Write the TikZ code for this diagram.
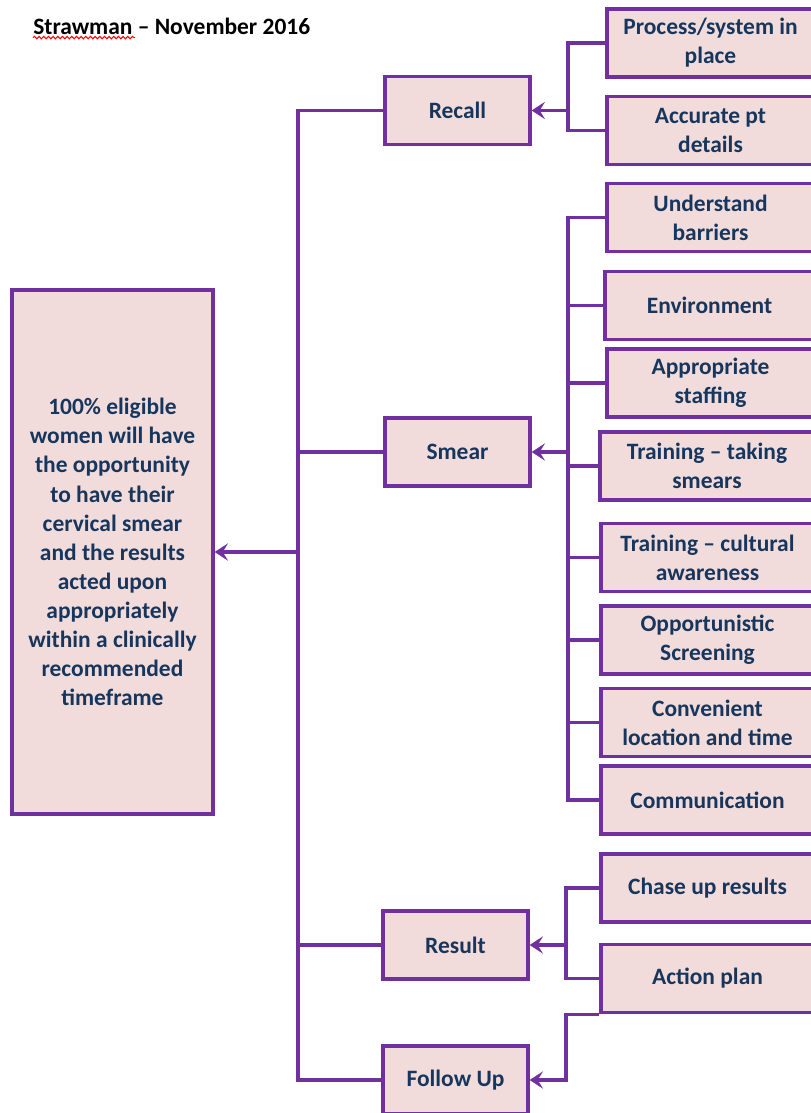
\documentclass[tikz,border=0pt]{standalone}
\usepackage{fontspec}
\setmainfont{Carlito}
\usetikzlibrary{arrows.meta,decorations.pathmorphing}

\definecolor{boxfill}{HTML}{F2DCDB}
\definecolor{boxline}{HTML}{7030A0}
\definecolor{boxtext}{HTML}{17365D}

\begin{document}
\begin{tikzpicture}[
  x=0.75pt, y=-0.75pt,
  font=\fontsize{17.6}{21.8}\selectfont\bfseries,
  box/.style={rectangle, draw=boxline, line width=2.5pt, fill=boxfill,
              text=boxtext, align=center, minimum height=51pt, inner sep=0pt},
  mid/.style={box, minimum width=108.75pt},
  ln/.style={draw=boxline, line width=2.5pt},
  ar/.style={ln, -{Stealth[length=10pt, width=13pt, inset=4pt]}}
]
\useasboundingbox (0,0) rectangle (810,1113);

% title
\node[anchor=west, inner sep=0pt] (title) at (33,26) {Strawman -- November 2016};
\draw[red, line width=0.8pt, decorate,
      decoration={snake, amplitude=0.9pt, segment length=3.5pt}]
  (title.south west) ++(0,3) coordinate (wv) -- ++(102,0);

% goal
\node[box, minimum width=150.75pt, minimum height=393pt] (goal) at (112.5,552)
  {100\% eligible\\women will have\\the opportunity\\to have their\\cervical smear\\and the results\\acted upon\\appropriately\\within a clinically\\recommended\\timeframe};

% middle column
\node[mid] (recall) at (457.5,110.5) {Recall};
\node[mid] (smear)  at (457.5,452)   {Smear};
\node[mid] (result) at (455.5,945)   {Result};
\node[mid] (follow) at (455.5,1080)  {Follow Up};

% right column
\node[box, minimum width=155.25pt] (proc)  at (710.5,43)  {Process/system in\\place};
\node[box, minimum width=155.25pt] (acc)   at (710.5,130.5) {Accurate pt\\details};
\node[box, minimum width=155.25pt] (under) at (710.5,217.5) {Understand\\barriers};
\node[box, minimum width=156.75pt] (env)   at (709.5,305.5) {Environment};
\node[box, minimum width=155.25pt] (staff) at (710.5,383) {Appropriate\\staffing};
\node[box, minimum width=160.5pt]  (train) at (707,466)   {Training -- taking\\smears};
\node[box, minimum width=159.75pt] (cult)  at (707.5,557.5) {Training -- cultural\\awareness};
\node[box, minimum width=159.75pt] (opp)   at (707.5,640) {Opportunistic\\Screening};
\node[box, minimum width=159.75pt] (conv)  at (707.5,722.5) {Convenient\\location and time};
\node[box, minimum width=159.75pt] (comm)  at (707.5,800) {Communication};
\node[box, minimum width=159.75pt] (chase) at (707.5,888) {Chase up results};
\node[box, minimum width=159.75pt] (act)   at (707.5,978.5) {Action plan};

% junctions
\coordinate (rj)  at (568,110.5);
\coordinate (sj)  at (568,452);
\coordinate (rsj) at (566,945);
\coordinate (fj)  at (566,1080);
\coordinate (gj)  at (298,552);

% recall branch
\draw[ln] (proc.west) -| (rj) |- (acc.west);
\draw[ar] (rj) -- (recall.east);

% smear branch
\foreach \n in {under,env,staff,train,cult,opp,conv,comm}
  \draw[ln] (\n.west) -| (sj);
\draw[ar] (sj) -- (smear.east);

% result branch
\draw[ln] (chase.west) -| (rsj) |- (act.west);
\draw[ar] (rsj) -- (result.east);

% follow up
\draw[ar] (act.south west) -| (fj) -- (follow.east);

% main trunk
\foreach \n in {recall,smear,result,follow}
  \draw[ln] (\n.west) -| (gj);
\draw[ar] (gj) -- (goal.east);
\end{tikzpicture}
\end{document}
